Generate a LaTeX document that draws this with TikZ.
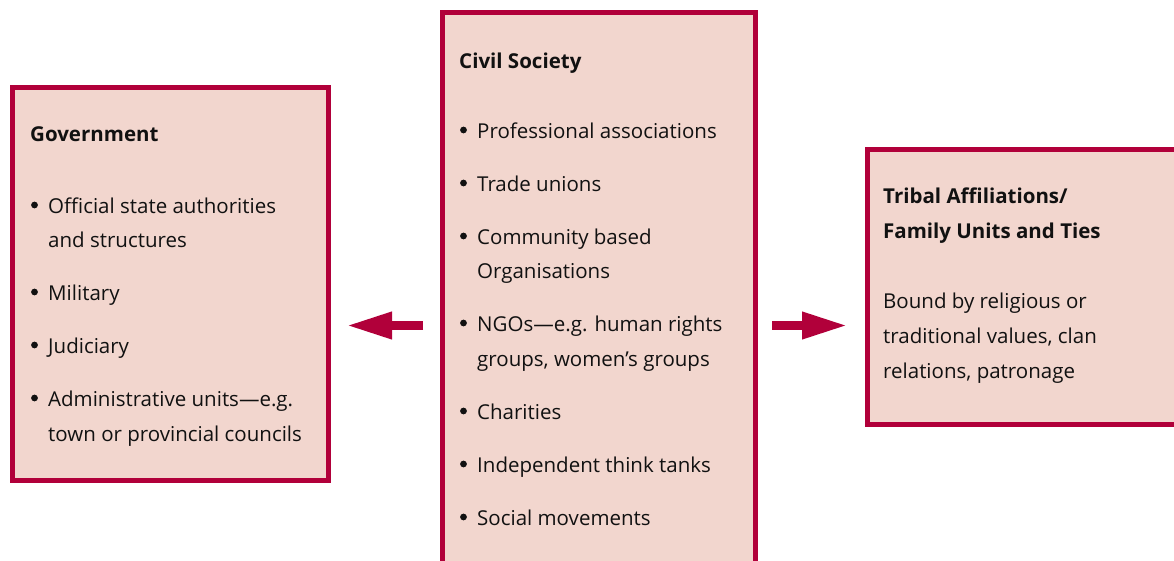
\documentclass[tikz,border=0pt]{standalone}
\usepackage{fontspec}
\setmainfont{Open Sans}
\usetikzlibrary{arrows.meta}
\definecolor{crim}{HTML}{B1003A}
\definecolor{boxfill}{HTML}{F2D6CE}
\definecolor{txt}{HTML}{111111}
\begin{document}
\begin{tikzpicture}[x=1pt,y=-1pt,
  box/.style={draw=crim, fill=boxfill, line width=5pt, rectangle, anchor=north west, inner sep=0pt},
  headtxt/.style={anchor=base west, font=\fontsize{20.5}{35}\selectfont\bfseries, text=txt, inner sep=0pt},
  bodytxt/.style={anchor=base west, font=\fontsize{20.5}{35}\selectfont, text=txt, inner sep=0pt},
  bul/.style={circle, fill=txt, inner sep=0pt, minimum size=6.8pt, yshift=8pt},
  bigarrow/.style={draw=crim, line width=9.5pt, -{Triangle[length=46pt,width=25pt]}}]
\useasboundingbox (0,0) rectangle (1174,560);
\clip (0,0) rectangle (1174,560);
% boxes
\node[box, minimum width=316pt, minimum height=393pt] (gov) at (10,85) {};
\node[box, minimum width=313pt, minimum height=590pt] (civ) at (440,10) {};
\node[box, minimum width=340pt, minimum height=275pt] (tri) at (865,147) {};
% Government
\node[headtxt] (g0) at (30,141) {Government};
\node[bul] (gb1) at (34.5,213) {};
\node[bodytxt] (g1) at (48,213) {Official state authorities};
\node[bodytxt] (g2) at (48,247) {and structures};
\node[bul] (gb3) at (34.5,300) {};
\node[bodytxt] (g3) at (48,300) {Military};
\node[bul] (gb4) at (34.5,353) {};
\node[bodytxt] (g4) at (48,353) {Judiciary};
\node[bul] (gb5) at (34.5,406) {};
\node[bodytxt] (g5) at (48,406) {Administrative units—e.g.};
\node[bodytxt] (g6) at (48,441) {town or provincial councils};
% Civil Society
\node[headtxt] (c0) at (459,68) {Civil Society};
\node[bul] (cb1) at (463.5,138) {};
\node[bodytxt] (c1) at (477,138) {Professional associations};
\node[bul] (cb2) at (463.5,191) {};
\node[bodytxt] (c2) at (477,191) {Trade unions};
\node[bul] (cb3) at (463.5,244) {};
\node[bodytxt] (c3) at (477,244) {Community based};
\node[bodytxt] (c4) at (477,278) {Organisations};
\node[bul] (cb5) at (463.5,331) {};
\node[bodytxt] (c5) at (477,331) {NGOs—e.g. human rights};
\node[bodytxt] (c6) at (477,366) {groups, women’s groups};
\node[bul] (cb7) at (463.5,419) {};
\node[bodytxt] (c7) at (477,419) {Charities};
\node[bul] (cb8) at (463.5,472) {};
\node[bodytxt] (c8) at (477,472) {Independent think tanks};
\node[bul] (cb9) at (463.5,525) {};
\node[bodytxt] (c9) at (477,525) {Social movements};
% Tribal
\node[headtxt] (t0) at (883,203) {Tribal Affiliations/};
\node[headtxt] (t1) at (883,238) {Family Units and Ties};
\node[bodytxt] (t2) at (883,308) {Bound by religious or};
\node[bodytxt] (t3) at (883,343) {traditional values, clan};
\node[bodytxt] (t4) at (883,378) {relations, patronage};
% arrows
\coordinate (ay) at (0,325.5);
\draw[bigarrow] ([xshift=-17pt]civ.west |- ay) -- ([xshift=15pt]gov.east |- ay);
\draw[bigarrow] ([xshift=14pt]civ.east |- ay) -- ([xshift=-17pt]tri.west |- ay);
\end{tikzpicture}
\end{document}
